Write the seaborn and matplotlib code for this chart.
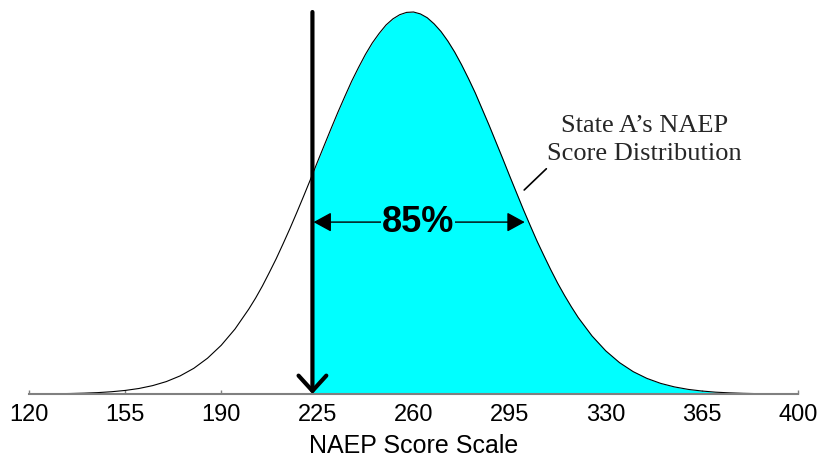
import numpy as np
import matplotlib
matplotlib.use("Agg")
import matplotlib.pyplot as plt
import seaborn as sns

# ---- data ----
score_x = [120, 125, 130, 135, 140, 145, 150, 155, 160, 165, 170, 175, 180, 185,
           190, 195, 200, 202.5, 205, 207.5, 210, 212.5, 215, 217.5, 220, 222.5,
           225, 227.5, 230, 232.5, 235, 237.5, 240, 242.5, 245, 247.5, 250, 252.5,
           255, 257.5, 260, 262.5, 265, 267.5, 270, 272.5, 275, 277.5, 280, 282.5,
           285, 287.5, 290, 292.5, 295, 297.5, 300, 302.5, 305, 307.5, 310, 312.5,
           315, 317.5, 320, 325, 330, 335, 340, 345, 350, 355, 360, 365, 370, 375,
           380, 385, 390, 395, 400]
density = [0.0002, 0.0004, 0.0008, 0.0013, 0.0022, 0.0036, 0.0059, 0.0093, 0.0144,
           0.0219, 0.0325, 0.0473, 0.0672, 0.0937, 0.1276, 0.170, 0.222, 0.251,
           0.283, 0.318, 0.354, 0.393, 0.433, 0.475, 0.518, 0.562, 0.607, 0.651,
           0.695, 0.738, 0.779, 0.819, 0.855, 0.889, 0.919, 0.944, 0.966, 0.982,
           0.993, 0.999, 1.000, 0.995, 0.985, 0.969, 0.949, 0.924, 0.895, 0.862,
           0.826, 0.788, 0.746, 0.704, 0.660, 0.616, 0.571, 0.527, 0.483, 0.441,
           0.400, 0.362, 0.325, 0.290, 0.258, 0.228, 0.200, 0.152, 0.113, 0.0822,
           0.0585, 0.0408, 0.0278, 0.0186, 0.0121, 0.0078, 0.0048, 0.0030, 0.0018,
           0.0010, 0.0006, 0.0003, 0.0002]
tick_values = [120, 155, 190, 225, 260, 295, 330, 365, 400]
cut_score = 223.2
share_label = "85%"
share_arrow_right = 300.5
share_arrow_level = 0.45
dist_label = "State A\u2019s NAEP\nScore Distribution"
x_label = "NAEP Score Scale"

sns.set_theme(style="white")
plt.rcParams['font.family'] = ['Liberation Sans', 'DejaVu Sans']

fig = plt.figure(figsize=(8.31, 4.58), dpi=100)
ax = fig.add_axes([29 / 831, 64 / 458, 769 / 831, 382 / 458])

xs = np.array(score_x, dtype=float)
ys = np.array(density, dtype=float)

# shaded share above the cut score
cut_y = np.interp(cut_score, xs, ys)
mask = xs > cut_score
fx = np.concatenate([[cut_score], xs[mask]])
fy = np.concatenate([[cut_y], ys[mask]])
ax.fill_between(fx, 0, fy, color="#00FFFF", linewidth=0, zorder=1)

sns.lineplot(x=xs, y=ys, color="black", linewidth=0.8, ax=ax, zorder=2,
             clip_on=False)

ax.set_xlim(120, 400)
ax.set_ylim(0, 1.0)

# cut score arrow
ax.annotate("", xy=(cut_score, 0), xytext=(cut_score, 1.0),
            arrowprops=dict(arrowstyle="->,head_length=0.55,head_width=0.5",
                            lw=3, color="black", shrinkA=0, shrinkB=0,
                            mutation_scale=20),
            zorder=5, annotation_clip=False)

# 85% double arrow
ax.annotate("", xy=(share_arrow_right, share_arrow_level),
            xytext=(cut_score + 0.4, share_arrow_level),
            arrowprops=dict(arrowstyle="<|-|>,head_length=0.55,head_width=0.3",
                            lw=1, color="black", shrinkA=0, shrinkB=0,
                            mutation_scale=20),
            zorder=3)
ax.text(261.7, share_arrow_level, share_label, ha="center", va="center",
        fontsize=26, fontweight="bold", color="black", zorder=4,
        bbox=dict(facecolor="#00FFFF", edgecolor="none", pad=0.5))

# distribution label with leader line
ax.annotate(dist_label, xy=(300.3, 0.534), xytext=(344, 0.665),
            ha="center", va="center", fontsize=19,
            family=["Liberation Serif", "DejaVu Serif"], linespacing=1.3,
            arrowprops=dict(arrowstyle="-", lw=1.2, color="black",
                            shrinkA=1, shrinkB=0,
                            relpos=(0.02, 0.0)),
            zorder=4)

# axes styling
for s in ["top", "right", "left"]:
    ax.spines[s].set_visible(False)
ax.spines["bottom"].set_color("#808080")
ax.spines["bottom"].set_linewidth(1.5)
ax.set_yticks([])
ax.set_xticks(tick_values)
ax.set_xticklabels([str(v) for v in tick_values])
ax.tick_params(axis="x", direction="in", length=3, width=1, color="#808080",
               labelsize=17, pad=7, labelcolor="black", bottom=True)
ax.set_xlabel(x_label, fontsize=18, labelpad=6, color="black")
ax.grid(False)

fig.savefig("out.png", dpi=100)
